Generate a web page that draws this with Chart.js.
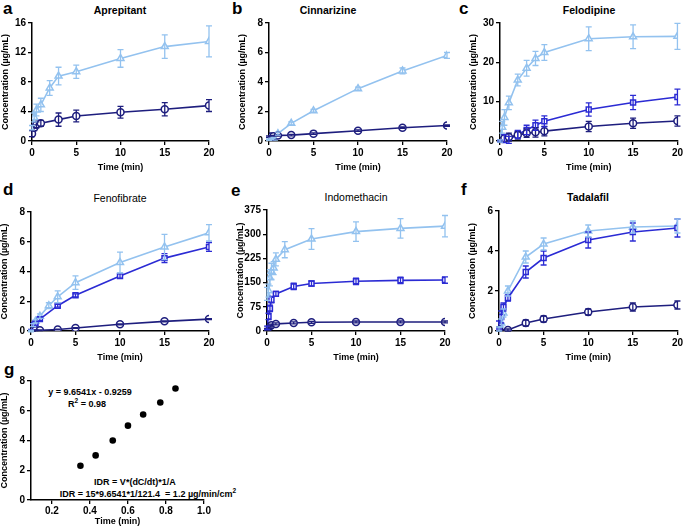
<!DOCTYPE html>
<html>
<head>
<meta charset="utf-8">
<script src="https://cdn.jsdelivr.net/npm/chart.js@4.4.0/dist/chart.umd.min.js"></script>
<style>
  body { margin: 0; background: #fff; width: 685px; height: 528px; position: relative; overflow: hidden;
         font-family: "Liberation Sans", Arial, sans-serif; color: #000; }
  canvas { position: absolute; }
  .lbl { position: absolute; font-weight: bold; font-size: 17px; line-height: 1; }
  .ttl { position: absolute; font-size: 10.5px; font-weight: bold; transform: translate(-50%, -50%); white-space: nowrap; }
  .ttl.thin { font-weight: normal; }
  .note { position: absolute; font-size: 9px; font-weight: bold; transform: translate(-50%, -50%); white-space: nowrap; }
  .note sup { font-size: 6.5px; }
</style>
</head>
<body>
<div class="lbl" style="left:3px;top:0px">a</div>
<div class="lbl" style="left:232px;top:0px">b</div>
<div class="lbl" style="left:459px;top:0px">c</div>
<div class="lbl" style="left:3px;top:181px">d</div>
<div class="lbl" style="left:231px;top:182px">e</div>
<div class="lbl" style="left:461px;top:181px">f</div>
<div class="lbl" style="left:4px;top:361px">g</div>

<div class="ttl" style="left:120px;top:10px">Aprepitant</div>
<div class="ttl" style="left:328px;top:10px">Cinnarizine</div>
<div class="ttl" style="left:589px;top:10px">Felodipine</div>
<div class="ttl thin" style="left:120px;top:198px">Fenofibrate</div>
<div class="ttl thin" style="left:356px;top:197px">Indomethacin</div>
<div class="ttl" style="left:588px;top:197px">Tadalafil</div>

<div class="note" style="left:90px;top:392px">y = 9.6541x - 0.9259</div>
<div class="note" style="left:87px;top:403px">R<sup>2</sup> = 0.98</div>
<div class="note" style="left:135px;top:482px">IDR = V*(dC/dt)*1/A</div>
<div class="note" style="left:148px;top:493px">IDR = 15*9.6541*1/121.4&nbsp; = 1.2 µg/min/cm<sup>2</sup></div>

<script>
// ---- data ----
// a: Aprepitant
const aTime    = [0, 0.25, 0.5, 1, 2, 3, 5, 10, 15, 20];
const aHigh    = [1.8, 3.2, 4.2, 4.9, 7.2, 8.8, 9.4, 11.2, 12.8, 13.5];
const aHighErr = [0.3, 0.6, 0.8, 0.9, 1.0, 1.2, 0.9, 1.2, 1.6, 2.1];
const aLow     = [1.0, 1.8, 2.2, 2.4, null, 2.9, 3.4, 3.9, 4.3, 4.8];
const aLowErr  = [0.4, 0.4, 0.4, 0.4, null, 0.9, 0.8, 0.8, 0.9, 0.8];

// b: Cinnarizine
const bTime    = [0, 0.25, 0.5, 1, 2.5, 5, 10, 15, 20];
const bHigh    = [0.1, 0.15, 0.2, 0.5, 1.2, 2.05, 3.55, 4.75, 5.8];
const bHighErr = [0.05, 0.05, 0.05, 0.1, 0.1, 0.1, 0.1, 0.2, 0.2];
const bLow     = [0.3, 0.3, 0.33, 0.38, 0.4, 0.5, 0.7, 0.9, 1.05];
const bLowErr  = [0.05, 0.05, 0.05, 0.05, 0.05, 0.05, 0.05, 0.05, 0.05];

// c: Felodipine
const cTime    = [0, 0.25, 0.5, 1, 2, 3, 4, 5, 10, 15, 20];
const cHigh    = [0, 3.5, 6, 9.7, 15.5, 18.5, 21, 22.5, 26, 26.5, 26.6];
const cHighErr = [0.3, 1.5, 2, 1.7, 1.5, 2, 1.8, 2, 3, 3, 3.3];
const cMid     = [0, null, 0.6, 0.3, 1.7, 2.8, 4, 5, 8, 9.8, 11.2];
const cMidErr  = [0.2, null, 1, 0.9, 1, 1.2, 1.3, 1.4, 1.7, 1.8, 2];
const cLow     = [0, null, 0.7, 1, 1.5, 2, 2.2, 2.5, 3.7, 4.5, 5.1];
const cLowErr  = [0.2, null, 1, 1, 1, 1.1, 1.2, 1.2, 1.3, 1.3, 1.3];

// d: Fenofibrate
const dTime    = [0, 0.25, 0.5, 1, 2, 3, 5, 10, 15, 20];
const dHigh    = [0, 0.4, 0.65, 1.0, 1.7, 2.3, 3.25, 4.6, 5.65, 6.6];
const dHighErr = [0.05, 0.1, 0.1, 0.15, 0.2, 0.4, 0.45, 0.7, 0.85, 0.55];
const dMid     = [0.05, 0.4, 0.5, 0.8, null, 1.7, 2.4, 3.7, 4.9, 5.65];
const dMidErr  = [0.05, 0.1, 0.1, 0.1, null, 0.1, 0.1, 0.15, 0.3, 0.3];
const dLow     = [0, 0.03, 0.05, 0.05, null, 0.1, 0.2, 0.45, 0.65, 0.8];
const dLowErr  = [0.03, 0.03, 0.03, 0.03, null, 0.03, 0.03, 0.03, 0.03, 0.03];

// e: Indomethacin
const eTime    = [0, 0.17, 0.33, 0.5, 0.75, 1, 2, 3, 5, 10, 15, 20];
const eHigh    = [115, 125, 165, 185, 195, 222, 252, null, 285, 308, 318, 325];
const eHighErr = [20, 20, 25, 25, 20, 20, 25, null, 32, 30, 30, 33];
const eMid     = [10, 45, 70, 97, null, 115, null, 138, 147, 154, 157, 158];
const eMidErr  = [5, 10, 10, 10, null, 8, null, 10, 8, 10, 10, 10];
const eLow     = [5, 12, 15, 18, null, 22, null, 25, 27, 28, 28, 28];
const eLowErr  = [3, 3, 3, 3, null, 3, null, 3, 3, 3, 3, 3];

// f: Tadalafil
const fTime    = [0, 0.25, 0.5, 1, 3, 5, 10, 15, 20];
const fHigh    = [0.1, 0.4, 0.9, 2.0, 3.7, 4.35, 5.0, 5.2, 5.25];
const fHighErr = [0.1, 0.2, 0.2, 0.25, 0.3, 0.3, 0.3, 0.3, 0.35];
const fMid     = [0.3, 0.7, 1.2, 1.65, 2.95, 3.65, 4.55, 4.95, 5.15];
const fMidErr  = [0.2, 0.3, 0.2, 0.15, 0.3, 0.35, 0.4, 0.45, 0.45];
const fLow     = [0.1, null, null, 0.05, 0.4, 0.6, 0.95, 1.2, 1.3];
const fLowErr  = [0.1, null, null, 0.05, 0.15, 0.15, 0.15, 0.2, 0.2];

// g: calibration
const gTime = [0.35, 0.43, 0.52, 0.60, 0.68, 0.77, 0.85];
const gConc = [2.3, 3.0, 4.0, 5.0, 5.75, 6.55, 7.5];
const gXTicks = [0.2, 0.4, 0.6, 0.8, 1.0];

// ---- styling ----
const LIGHT = '#93c2ef', MID = '#2b2bd4', DARK = '#1e1e7e';
const FONT = 'Liberation Sans';
const tickFont = { family: FONT, size: 10, weight: 'bold' };
const titleFont = { family: FONT, size: 9, weight: 'bold' };

// draws the SD bars for each point from the y scale
const errorBars = {
  id: 'errorBars',
  afterDatasetsDraw(chart) {
    const ctx = chart.ctx, ys = chart.scales.y;
    chart.data.datasets.forEach((ds, i) => {
      const meta = chart.getDatasetMeta(i);
      ctx.save();
      ctx.strokeStyle = ds.borderColor;
      ctx.lineWidth = 1.3;
      meta.data.forEach((pt, j) => {
        const d = ds.data[j];
        if (!d.e) return;
        const top = ys.getPixelForValue(d.y + d.e);
        const bot = ys.getPixelForValue(d.y - d.e);
        ctx.beginPath();
        ctx.moveTo(pt.x, top); ctx.lineTo(pt.x, bot);
        ctx.moveTo(pt.x - 3, top); ctx.lineTo(pt.x + 3, top);
        ctx.moveTo(pt.x - 3, bot); ctx.lineTo(pt.x + 3, bot);
        ctx.stroke();
      });
      ctx.restore();
    });
  }
};

function pts(time, vals, errs) {
  return time.map((t, i) => ({ x: t, y: vals[i], e: errs ? errs[i] : 0 }))
             .filter(p => p.y != null);
}

function line(color, style, data) {
  return {
    data: data,
    borderColor: color,
    backgroundColor: '#fff',
    borderWidth: 1.6,
    pointStyle: style,
    pointRadius: style === 'triangle' ? 4 : 3.5,
    pointBorderWidth: 1.5,
    tension: 0
  };
}

function axis(min, max, step, title) {
  return {
    type: 'linear', min: min, max: max,
    ticks: { stepSize: step, font: tickFont, color: '#000', padding: 2, maxRotation: 0 },
    grid: { drawOnChartArea: false, drawTicks: true, tickLength: 4, color: '#000', lineWidth: 1.3 },
    border: { color: '#000', width: 1.5 },
    title: { display: true, text: title, font: titleFont, color: '#000', padding: { top: 1, bottom: 1 } }
  };
}

// L/R/T/B: where the plot box sits on the page
function panel(box, datasets, yMax, yStep, xOpts) {
  const padR = box.padR || 14;
  const xh = box.xh || 33;
  const c = document.createElement('canvas');
  c.width = box.R - box.L + 33 + padR;
  c.height = box.B - box.T + 23 + xh;
  c.style.left = (box.L - 33) + 'px';
  c.style.top = (box.T - 23) + 'px';
  document.body.appendChild(c);

  const x = Object.assign(axis(0, 20, 5, 'Time (min)'), xOpts || {});
  x.afterFit = s => { s.height = xh; };
  const y = axis(0, yMax, yStep, 'Concentration (µg/mL)');
  y.afterFit = s => { s.width = 33; };

  new Chart(c, {
    type: 'line',
    data: { datasets: datasets },
    options: {
      responsive: false,
      animation: false,
      layout: { padding: { top: 23, right: padR, left: 0, bottom: 0 } },
      plugins: { legend: { display: false }, tooltip: { enabled: false } },
      scales: { x: x, y: y }
    },
    plugins: [errorBars]
  });
}

panel({ L: 32, R: 209, T: 23, B: 141 }, [
  line(DARK, 'circle', pts(aTime, aLow, aLowErr)),
  line(LIGHT, 'triangle', pts(aTime, aHigh, aHighErr))
], 16, 4);

panel({ L: 269, R: 447, T: 23, B: 141 }, [
  line(DARK, 'circle', pts(bTime, bLow, bLowErr)),
  line(LIGHT, 'triangle', pts(bTime, bHigh, bHighErr))
], 8, 2);

panel({ L: 500, R: 678, T: 23, B: 141, padR: 7 }, [
  line(DARK, 'circle', pts(cTime, cLow, cLowErr)),
  line(MID, 'rect', pts(cTime, cMid, cMidErr)),
  line(LIGHT, 'triangle', pts(cTime, cHigh, cHighErr))
], 30, 10);

panel({ L: 31, R: 209, T: 212, B: 331 }, [
  line(DARK, 'circle', pts(dTime, dLow, dLowErr)),
  line(MID, 'rect', pts(dTime, dMid, dMidErr)),
  line(LIGHT, 'triangle', pts(dTime, dHigh, dHighErr))
], 8, 2);

panel({ L: 267, R: 445, T: 210, B: 331 }, [
  line(DARK, 'circle', pts(eTime, eLow, eLowErr)),
  line(MID, 'rect', pts(eTime, eMid, eMidErr)),
  line(LIGHT, 'triangle', pts(eTime, eHigh, eHighErr))
], 375, 75);

panel({ L: 499, R: 678, T: 211, B: 331, padR: 7 }, [
  line(DARK, 'circle', pts(fTime, fLow, fLowErr)),
  line(MID, 'rect', pts(fTime, fMid, fMidErr)),
  line(LIGHT, 'triangle', pts(fTime, fHigh, fHighErr))
], 6, 2);

// g: scatter of the calibration points
panel({ L: 31, R: 204, T: 381, B: 500, xh: 28 }, [{
  data: pts(gTime, gConc),
  showLine: false,
  borderColor: '#000',
  backgroundColor: '#000',
  pointRadius: 3.3,
  pointBorderWidth: 0
}], 8, 2, {
  min: 0.09, max: 1.0,
  afterBuildTicks: s => { s.ticks = gXTicks.map(v => ({ value: v })); },
  ticks: { font: tickFont, color: '#000', padding: 1, maxRotation: 0, callback: v => v.toFixed(1) }
});
</script>
</body>
</html>
